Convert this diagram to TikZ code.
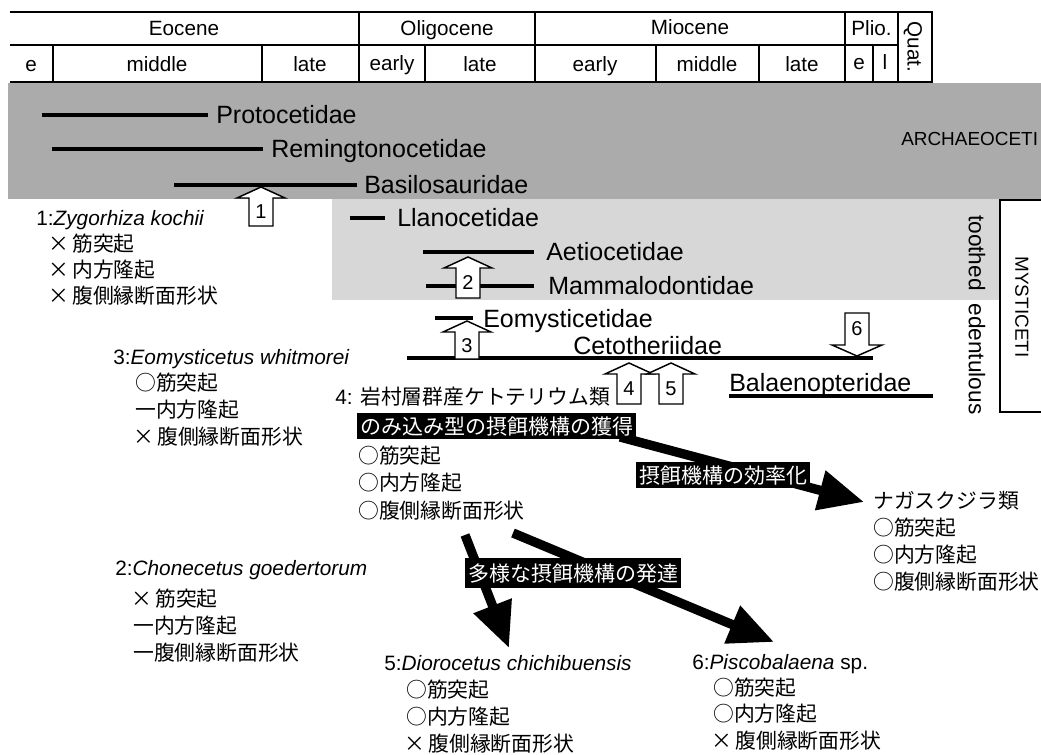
\documentclass[tikz,border=0pt]{standalone}
\usepackage{fontspec}
\setmainfont{Liberation Sans}
\newfontfamily\jp{Noto Sans CJK JP}
\usetikzlibrary{arrows.meta}
\definecolor{dgray}{HTML}{ABABAB}
\definecolor{lgray}{HTML}{D7D7D7}
\newcommand\upblk[5]{%
  \draw[hollowarr] (#2-12,#4) -- (#2-12,#3+11) -- (#2-24,#3+11) -- (#2,#3) -- (#2+24,#3+11) -- (#2+12,#3+11) -- (#2+12,#4) -- cycle;
  \node[numtxt] (#1) at (#2,{(#3+11+#4)/2}) {#5};}
\newcommand\xm{×\hspace{2.5pt}}
\begin{document}
\begin{tikzpicture}[x=0.75pt,y=-0.75pt,
  hdrline/.style={line width=2pt},
  barline/.style={line width=3pt},
  hdrtxt/.style={font=\fontsize{15.5}{17}\selectfont, inner sep=0pt, text height=11.1pt, text depth=0pt},
  famtxt/.style={font=\fontsize{18.75}{20}\selectfont, anchor=west, inner sep=0pt, text height=13.5pt, text depth=0pt},
  sptxt/.style={font=\fontsize{15.6}{18}\selectfont, anchor=west, inner sep=0pt, text height=11.7pt, text depth=0pt},
  blklab/.style={font=\fontsize{15.75}{18}\selectfont\jp, fill=black, text=white, inner xsep=2.25pt, inner ysep=2.4pt, text height=13.5pt, text depth=1.5pt},
  hollowarr/.style={draw, line width=1.1pt, fill=white, line join=miter},
  numtxt/.style={font=\fontsize{15}{16}\selectfont, inner sep=0pt},
  sidetxt/.style={font=\fontsize{17}{18}\selectfont, rotate=-90, inner sep=0pt},
  captxt/.style={font=\fontsize{14.2}{16}\selectfont, inner sep=0pt},
  bigarr/.style={line width=7pt, -{Triangle[length=34pt,width=29pt]}},
]
\clip (0,0) rectangle (1041,755);
% backgrounds
\fill[dgray] (8,83) rectangle (1041,199);
\fill[lgray] (332,199) rectangle (1000,300);
% header
\draw[hdrline] (10,12) -- (932,12) -- (932,82) -- (10,82);
\draw[hdrline] (10,45) -- (898,45);
\foreach \x in {359,535,845,898} \draw[hdrline] (\x,12) -- (\x,82);
\foreach \x in {53,262,425,656,759,873} \draw[hdrline] (\x,45) -- (\x,82);
\node[hdrtxt] (eoc) at (184,28) {Eocene};
\node[hdrtxt] (oli) at (447,28) {Oligocene};
\node[hdrtxt] (mio) at (690,27) {Miocene};
\node[hdrtxt] (pli) at (871.5,28) {Plio.};
\node[hdrtxt, rotate=-90] (qua) at (915,47) {Quat.};
\node[hdrtxt] (eoe) at (31,64) {e};
\node[hdrtxt] (eom) at (157,64) {middle};
\node[hdrtxt] (eol) at (310,64) {late};
\node[hdrtxt] (ole) at (392,63) {early};
\node[hdrtxt] (oll) at (480,64) {late};
\node[hdrtxt] (mie) at (595,64) {early};
\node[hdrtxt] (mim) at (707,64) {middle};
\node[hdrtxt] (mil) at (802,64) {late};
\node[hdrtxt] (ple) at (859,62) {e};
\node[hdrtxt] (pll) at (885,62) {l};
% side labels
\node[captxt, anchor=west] (arch) at (901,139) {ARCHAEOCETI};
\draw[line width=2.2pt] (1060,200) -- (1000,200) -- (1000,412) -- (1060,412);
\node[captxt, rotate=-90] (myst) at (1022,307) {MYSTICETI};
\node[sidetxt] (tooth) at (977,253) {toothed};
\node[sidetxt] (edent) at (977,359) {edentulous};
% family bars
\draw[barline] (42,115) -- (208,115);
\node[famtxt] (proto) at (216,115) {Protocetidae};
\draw[barline] (52,149) -- (263,149);
\node[famtxt] (remi) at (271,149) {Remingtonocetidae};
\draw[barline] (174,185) -- (357,185);
\node[famtxt] (basi) at (364,185) {Basilosauridae};
\draw[barline] (350,218) -- (385,218);
\node[famtxt] (llan) at (397,218) {Llanocetidae};
\draw[barline] (423,252) -- (534,252);
\node[famtxt] (aeti) at (546,252) {Aetiocetidae};
\draw[barline] (426,286) -- (534,286);
\node[famtxt] (mamm) at (548,286) {Mammalodontidae};
\draw[barline] (435,318) -- (473,318);
\node[famtxt] (eomy) at (483,318) {Eomysticetidae};
\draw[barline] (407,358) -- (873,358);
\node[famtxt] (ceto) at (573,345) {Cetotheriidae};
\node[famtxt] (bala) at (729,382) {Balaenopteridae};
\draw[barline] (729,396) -- (933,396);
% hollow arrows
\upblk{n1}{261}{187}{226}{1}
\upblk{n2}{468}{257}{298}{2}
\upblk{n3}{467}{321}{359}{3}
\upblk{n4}{629}{363}{404}{4}
\upblk{n5}{671}{363}{404}{5}
\draw[hollowarr] (845,313) -- (845,345) -- (832,345) -- (857,356) -- (882,345) -- (869,345) -- (869,313) -- cycle;
\node[numtxt] (n6) at (857,329) {6};
% text blocks
\node[sptxt] (b1t) at (36,218) {1:\textit{Zygorhiza kochii}};
\node[sptxt] (b1a) at (48,244) {{\jp \xm 筋突起}};
\node[sptxt] (b1b) at (48,270) {{\jp \xm 内方隆起}};
\node[sptxt] (b1c) at (48,296) {{\jp \xm 腹側縁断面形状}};
\node[sptxt] (b3t) at (113,357) {3:\textit{Eomysticetus whitmorei}};
\node[sptxt] (b3a) at (135,383) {{\jp ○筋突起}};
\node[sptxt] (b3b) at (135,410) {{\jp 一内方隆起}};
\node[sptxt] (b3c) at (133,437) {{\jp \xm 腹側縁断面形状}};
\node[sptxt] (b2t) at (115,568) {2:\textit{Chonecetus goedertorum}};
\node[sptxt] (b2a) at (131,599) {{\jp \xm 筋突起}};
\node[sptxt] (b2b) at (133,626) {{\jp 一内方隆起}};
\node[sptxt] (b2c) at (133,653) {{\jp 一腹側縁断面形状}};
\node[sptxt] (b4t) at (335,397) {4: {\jp 岩村層群産ケトテリウム類}};
\node[sptxt] (b4a) at (358,456) {{\jp ○筋突起}};
\node[sptxt] (b4b) at (358,483) {{\jp ○内方隆起}};
\node[sptxt] (b4c) at (358,511) {{\jp ○腹側縁断面形状}};
\node[sptxt] (ngt) at (873,501) {{\jp ナガスクジラ類}};
\node[sptxt] (nga) at (873,528) {{\jp ○筋突起}};
\node[sptxt] (ngb) at (873,555) {{\jp ○内方隆起}};
\node[sptxt] (ngc) at (873,582) {{\jp ○腹側縁断面形状}};
\node[sptxt] (b5t) at (384,663) {5:\textit{Diorocetus chichibuensis}};
\node[sptxt] (b5a) at (406,690) {{\jp ○筋突起}};
\node[sptxt] (b5b) at (406,717) {{\jp ○内方隆起}};
\node[sptxt] (b5c) at (404,744) {{\jp \xm 腹側縁断面形状}};
\node[sptxt] (b6t) at (692,662) {6:\textit{Piscobalaena} sp.};
\node[sptxt] (b6a) at (713,688) {{\jp ○筋突起}};
\node[sptxt] (b6b) at (713,714) {{\jp ○内方隆起}};
\node[sptxt] (b6c) at (711,741) {{\jp \xm 腹側縁断面形状}};
% thick arrows
\coordinate (s1) at (620,437);
\coordinate (t1) at (864,502);
\coordinate (s2) at (465,535);
\coordinate (t2) at (509,648);
\coordinate (s3) at (513,533);
\coordinate (t3) at (774,642);
\draw[bigarr] (s1) -- (t1);
\draw[bigarr] (s2) -- (t2);
\draw[bigarr] (s3) -- (t3);
% black labels
\node[blklab, anchor=west] (lab4) at (357,426) {のみ込み型の摂餌機構の獲得};
\node[blklab] (labeff) at (723,475) {摂餌機構の効率化};
\node[blklab, inner ysep=3.6pt] (labdiv) at (573,573) {多様な摂餌機構の発達};
\end{tikzpicture}
\end{document}
